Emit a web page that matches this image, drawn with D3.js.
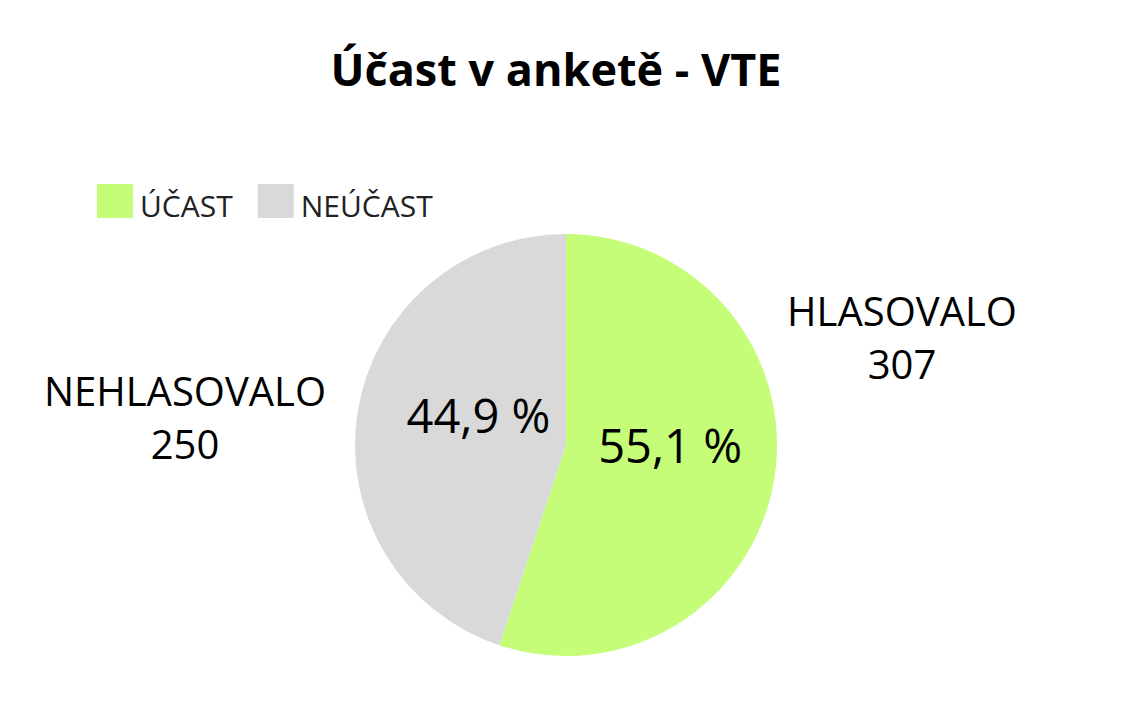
<!DOCTYPE html>
<html><head><meta charset="utf-8">
<script src="https://cdn.jsdelivr.net/npm/d3@7"></script>
<style>body{margin:0;background:#fff;} svg{display:block;font-family:"Open Sans",sans-serif;}</style>
</head><body>
<svg id="c" width="1131" height="714"></svg>
<script>
const categories = ["ÚČAST", "NEÚČAST"];
const sliceNames = ["HLASOVALO", "NEHLASOVALO"];
const values = [307, 250];
const percentLabels = ["55,1 %", "44,9 %"];
const colors = ["#c5fd78", "#d9d9d9"];

const svg = d3.select("#c");
const cx = 566, cy = 445, R = 211;

svg.append("text").attr("x", 556).attr("y", 86).attr("text-anchor", "middle")
  .attr("font-size", 45).attr("font-weight", 700).attr("fill", "#000").text("Účast v anketě - VTE");

const pie = d3.pie().sort(null).value(d => d)(values);
const arc = d3.arc().innerRadius(0).outerRadius(R);
const g = svg.append("g").attr("transform", `translate(${cx},${cy})`);
g.selectAll("path").data(pie).join("path").attr("d", arc).attr("fill", (d, i) => colors[i]);

// percent labels
const labelR = [0.5 * R, 0.42 * R];
const labelDy = [-15, -14];
pie.forEach((d, i) => {
  const a = (d.startAngle + d.endAngle) / 2;
  const x = Math.sin(a) * labelR[i], y = -Math.cos(a) * labelR[i] + labelDy[i];
  g.append("text").attr("x", x).attr("y", y).attr("dy", "0.35em").attr("text-anchor", "middle")
    .attr("font-size", 47).attr("fill", "#000").text(percentLabels[i]);
});

// outer labels
const outerPos = [[336, -119], [-381, -39]];
pie.forEach((d, i) => {
  const t = g.append("text").attr("text-anchor", "middle").attr("font-size", 40).attr("fill", "#000");
  t.append("tspan").attr("x", outerPos[i][0]).attr("y", outerPos[i][1]).text(sliceNames[i]);
  t.append("tspan").attr("x", outerPos[i][0]).attr("y", outerPos[i][1] + 53).text(values[i]);
});

// legend
const leg = svg.append("g");
let lx = 97;
categories.forEach((c, i) => {
  leg.append("rect").attr("x", lx).attr("y", 184).attr("width", 36).attr("height", 34).attr("fill", colors[i]);
  const t = leg.append("text").attr("x", lx + 43).attr("y", 217).attr("font-size", 30).attr("fill", "#222").text(c);
  lx += 43 + t.node().getComputedTextLength() + 25;
});
</script>
</body></html>
